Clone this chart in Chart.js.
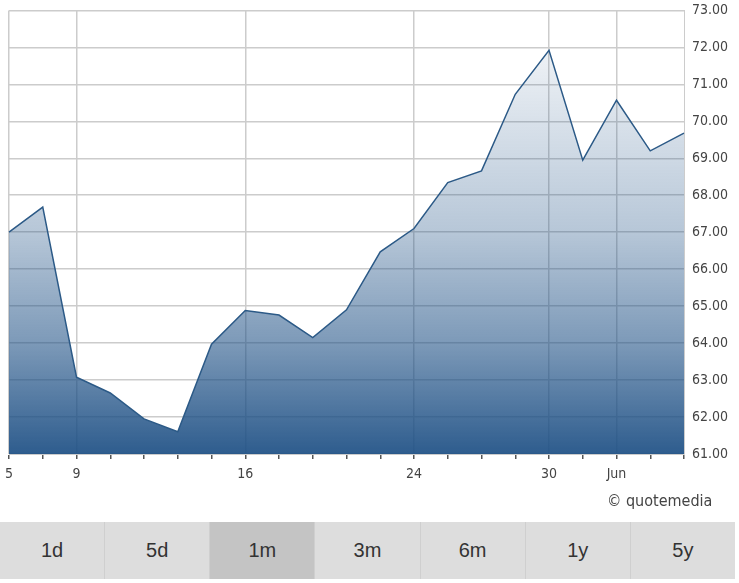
<!DOCTYPE html>
<html>
<head>
<meta charset="utf-8">
<script src="https://cdn.jsdelivr.net/npm/chart.js@4"></script>
<style>
  body { margin: 0; background: #fff; width: 739px; height: 583px; overflow: hidden; position: relative; }
  #wrap { position: absolute; left: -2px; top: -6px; width: 741px; height: 498px; }
  #copy { position: absolute; left: 607px; top: 491px; font: 16px "DejaVu Sans Condensed", "DejaVu Sans", sans-serif; color: #444; }
  #btns { position: absolute; left: 0; top: 522px; width: 735px; height: 57px; display: flex; }
  #btns div { flex: 1; background: #dddddd; border-left: 1px solid #cfcfcf; font: 20px "Liberation Sans", Arial, sans-serif;
              color: #333; text-align: center; line-height: 57px; }
  #btns div:first-child { border-left: none; }
  #btns div.sel { background: #c4c4c4; }
</style>
</head>
<body>
<div id="wrap"><canvas id="priceChart"></canvas></div>
<div id="copy">© quotemedia</div>
<div id="btns"></div>

<script>
// trading days, May 5 - Jun 3
var days = ['May 5','May 6','May 9','May 10','May 11','May 12','May 13','May 16','May 17','May 18','May 19','May 20',
            'May 24','May 25','May 26','May 27','May 30','May 31','Jun 1','Jun 2','Jun 3'];
var xTickLabels = ['5','','9','','','','','16','','','','','24','','','','30','','Jun','',''];
var closes = [67.00, 67.68, 63.08, 62.65, 61.95, 61.60, 63.97, 64.88, 64.76, 64.15, 64.90,
              66.47, 67.10, 68.34, 68.66, 70.73, 71.92, 68.95, 70.57, 69.20, 69.68];
var yMin = 61, yMax = 73;
var ranges = ['1d','5d','1m','3m','6m','1y','5y'];
var selectedRange = '1m';

var btns = document.getElementById('btns');
ranges.forEach(r => {
  var d = document.createElement('div');
  d.textContent = r;
  if (r === selectedRange) d.className = 'sel';
  btns.appendChild(d);
});

var areaFill = (ctx) => {
  var area = ctx.chart.chartArea;
  if (!area) return 'rgba(30,80,133,0.4)';
  var g = ctx.chart.ctx.createLinearGradient(0, area.top, 0, area.bottom);
  g.addColorStop(0, 'rgba(30,80,133,0.02)');
  g.addColorStop(0.5, 'rgba(30,80,133,0.32)');
  g.addColorStop(0.75, 'rgba(30,80,133,0.58)');
  g.addColorStop(1, 'rgba(30,80,133,0.93)');
  return g;
};

var font = { family: '"DejaVu Sans Condensed", "DejaVu Sans", Verdana, sans-serif', size: 14 };

new Chart(document.getElementById('priceChart'), {
  type: 'line',
  data: {
    labels: days,
    datasets: [{
      data: closes,
      borderColor: '#2c5a87',
      borderWidth: 1.5,
      backgroundColor: areaFill,
      fill: 'start',
      pointRadius: 0,
      tension: 0
    }]
  },
  options: {
    responsive: true,
    maintainAspectRatio: false,
    animation: false,
    layout: { padding: { left: 6, top: 2, right: 0, bottom: 0 } },
    plugins: { legend: { display: false }, tooltip: { enabled: false } },
    scales: {
      x: {
        grid: {
          color: ctx => xTickLabels[ctx.index] ? '#cccccc' : 'rgba(0,0,0,0)',
          tickColor: '#555',
          tickLength: 5,
          lineWidth: 1.5
        },
        border: { color: '#cccccc' },
        ticks: {
          autoSkip: false,
          maxRotation: 0,
          padding: 7,
          color: '#444',
          font: font,
          callback: (v, i) => xTickLabels[i]
        },
        afterFit: s => { s.height = 38; }
      },
      y: {
        position: 'right',
        min: yMin,
        max: yMax,
        grid: { color: '#cccccc', drawTicks: false, lineWidth: 1.5 },
        border: { color: '#cccccc' },
        ticks: {
          stepSize: 1,
          padding: 8,
          color: '#444',
          font: font,
          callback: v => v.toFixed(2)
        },
        afterFit: s => { s.width = 55; }
      }
    }
  }
});
</script>
</body>
</html>
